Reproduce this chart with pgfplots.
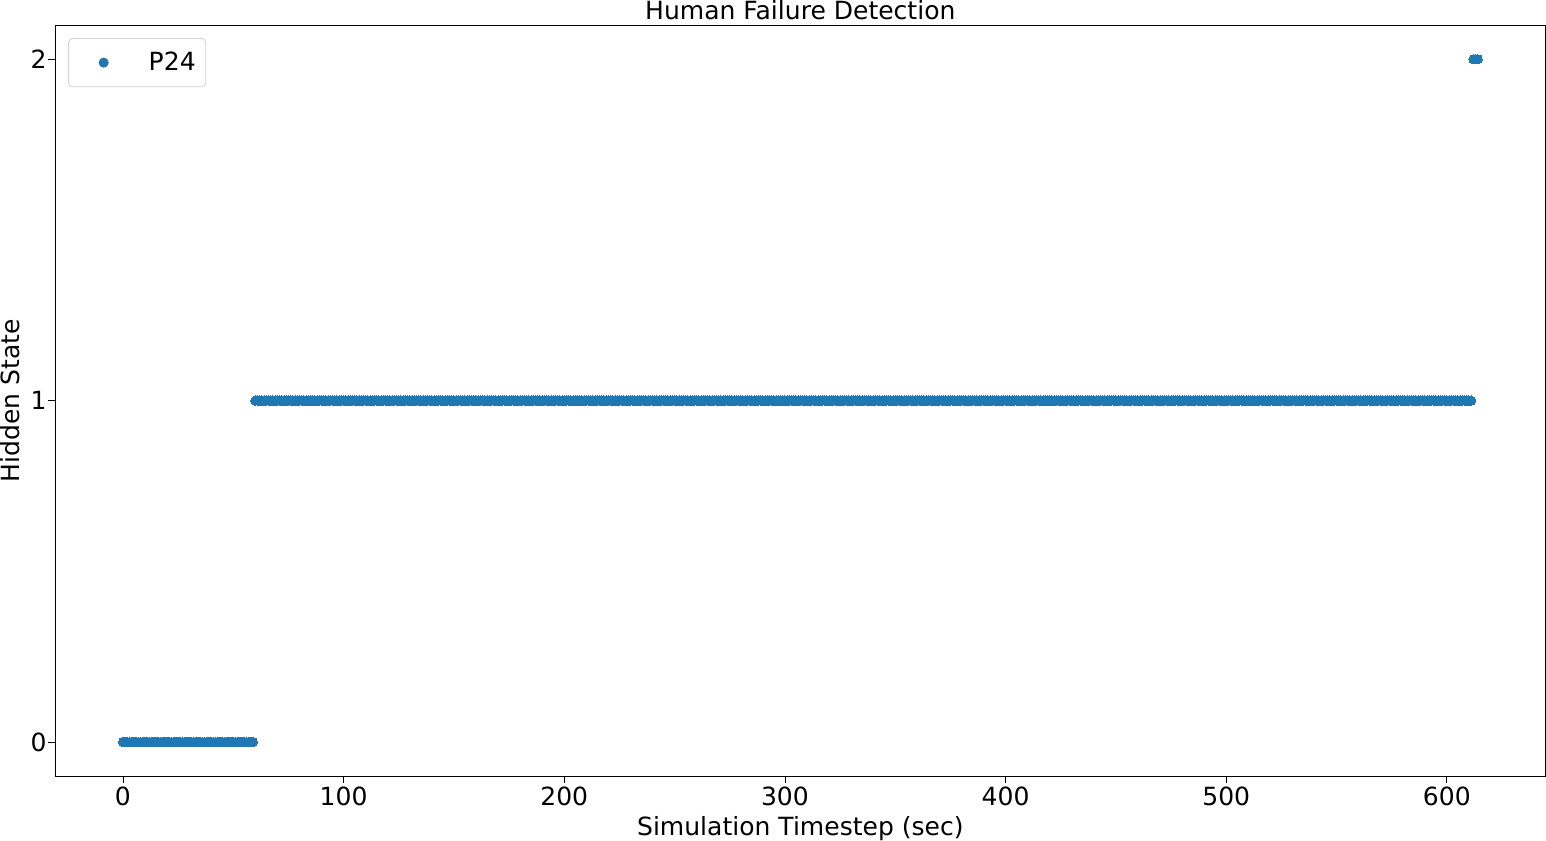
\documentclass[border=0pt]{standalone}
\usepackage{fontspec}
\setmainfont{DejaVu Sans}
\usepackage{pgfplots}
\pgfplotsset{compat=1.18}
\definecolor{mblue}{HTML}{1F77B4}
\begin{document}
\fontsize{12.5}{15}\selectfont
\begin{tikzpicture}
\begin{axis}[
  scale only axis,
  width=744pt, height=375pt,
  xmin=-30.7, xmax=644.7,
  ymin=-0.1, ymax=2.1,
  xtick={0,100,200,300,400,500,600},
  ytick={0,1,2},
  tick align=outside,
  major tick length=3.5pt,
  tick style={black, line width=0.4pt},
  xtick pos=bottom, ytick pos=left,
  /pgf/number format/assume math mode=true,
  tick label style={font=\fontsize{12.5}{15}\selectfont},
  xticklabel style={yshift=2.5pt},
  yticklabel style={xshift=3.5pt},
  title={Human Failure Detection},
  title style={at={(0.5,1)}, anchor=base, yshift=-3pt, inner sep=0pt, font=\fontsize{12.5}{15}\selectfont},
  xlabel={Simulation Timestep (sec)},
  ylabel={Hidden State},
  label style={font=\fontsize{12.5}{15}\selectfont},
  xlabel style={inner sep=0pt, yshift=-1pt},
  ylabel style={inner sep=0pt, yshift=1.2pt},
  axis line style={line width=0.5pt},
  legend style={at={(0,1)}, anchor=north west, xshift=6.5pt, yshift=-6.5pt,
    draw=black!18, rounded corners=2pt, inner xsep=3pt, inner ysep=4.5pt,
    font=\fontsize{12.5}{15}\selectfont, cells={anchor=west}},
  legend cell align=left,
  legend image code/.code={\path[draw=none,fill=none] (0pt,0pt) -- (35pt,0pt); \fill[mblue] (14.5pt,0pt) circle (2.3pt);},
]
\addplot[only marks, mark=*, mark size=2.3pt, mark options={draw=mblue, fill=mblue, line width=0pt}] coordinates {
(0,0) (1,0) (2,0) (3,0) (4,0) (5,0) (6,0) (7,0) (8,0) (9,0)
(10,0) (11,0) (12,0) (13,0) (14,0) (15,0) (16,0) (17,0) (18,0) (19,0)
(20,0) (21,0) (22,0) (23,0) (24,0) (25,0) (26,0) (27,0) (28,0) (29,0)
(30,0) (31,0) (32,0) (33,0) (34,0) (35,0) (36,0) (37,0) (38,0) (39,0)
(40,0) (41,0) (42,0) (43,0) (44,0) (45,0) (46,0) (47,0) (48,0) (49,0)
(50,0) (51,0) (52,0) (53,0) (54,0) (55,0) (56,0) (57,0) (58,0) (59,0)
(60,1) (61,1) (62,1) (63,1) (64,1) (65,1) (66,1) (67,1) (68,1) (69,1)
(70,1) (71,1) (72,1) (73,1) (74,1) (75,1) (76,1) (77,1) (78,1) (79,1)
(80,1) (81,1) (82,1) (83,1) (84,1) (85,1) (86,1) (87,1) (88,1) (89,1)
(90,1) (91,1) (92,1) (93,1) (94,1) (95,1) (96,1) (97,1) (98,1) (99,1)
(100,1) (101,1) (102,1) (103,1) (104,1) (105,1) (106,1) (107,1) (108,1) (109,1)
(110,1) (111,1) (112,1) (113,1) (114,1) (115,1) (116,1) (117,1) (118,1) (119,1)
(120,1) (121,1) (122,1) (123,1) (124,1) (125,1) (126,1) (127,1) (128,1) (129,1)
(130,1) (131,1) (132,1) (133,1) (134,1) (135,1) (136,1) (137,1) (138,1) (139,1)
(140,1) (141,1) (142,1) (143,1) (144,1) (145,1) (146,1) (147,1) (148,1) (149,1)
(150,1) (151,1) (152,1) (153,1) (154,1) (155,1) (156,1) (157,1) (158,1) (159,1)
(160,1) (161,1) (162,1) (163,1) (164,1) (165,1) (166,1) (167,1) (168,1) (169,1)
(170,1) (171,1) (172,1) (173,1) (174,1) (175,1) (176,1) (177,1) (178,1) (179,1)
(180,1) (181,1) (182,1) (183,1) (184,1) (185,1) (186,1) (187,1) (188,1) (189,1)
(190,1) (191,1) (192,1) (193,1) (194,1) (195,1) (196,1) (197,1) (198,1) (199,1)
(200,1) (201,1) (202,1) (203,1) (204,1) (205,1) (206,1) (207,1) (208,1) (209,1)
(210,1) (211,1) (212,1) (213,1) (214,1) (215,1) (216,1) (217,1) (218,1) (219,1)
(220,1) (221,1) (222,1) (223,1) (224,1) (225,1) (226,1) (227,1) (228,1) (229,1)
(230,1) (231,1) (232,1) (233,1) (234,1) (235,1) (236,1) (237,1) (238,1) (239,1)
(240,1) (241,1) (242,1) (243,1) (244,1) (245,1) (246,1) (247,1) (248,1) (249,1)
(250,1) (251,1) (252,1) (253,1) (254,1) (255,1) (256,1) (257,1) (258,1) (259,1)
(260,1) (261,1) (262,1) (263,1) (264,1) (265,1) (266,1) (267,1) (268,1) (269,1)
(270,1) (271,1) (272,1) (273,1) (274,1) (275,1) (276,1) (277,1) (278,1) (279,1)
(280,1) (281,1) (282,1) (283,1) (284,1) (285,1) (286,1) (287,1) (288,1) (289,1)
(290,1) (291,1) (292,1) (293,1) (294,1) (295,1) (296,1) (297,1) (298,1) (299,1)
(300,1) (301,1) (302,1) (303,1) (304,1) (305,1) (306,1) (307,1) (308,1) (309,1)
(310,1) (311,1) (312,1) (313,1) (314,1) (315,1) (316,1) (317,1) (318,1) (319,1)
(320,1) (321,1) (322,1) (323,1) (324,1) (325,1) (326,1) (327,1) (328,1) (329,1)
(330,1) (331,1) (332,1) (333,1) (334,1) (335,1) (336,1) (337,1) (338,1) (339,1)
(340,1) (341,1) (342,1) (343,1) (344,1) (345,1) (346,1) (347,1) (348,1) (349,1)
(350,1) (351,1) (352,1) (353,1) (354,1) (355,1) (356,1) (357,1) (358,1) (359,1)
(360,1) (361,1) (362,1) (363,1) (364,1) (365,1) (366,1) (367,1) (368,1) (369,1)
(370,1) (371,1) (372,1) (373,1) (374,1) (375,1) (376,1) (377,1) (378,1) (379,1)
(380,1) (381,1) (382,1) (383,1) (384,1) (385,1) (386,1) (387,1) (388,1) (389,1)
(390,1) (391,1) (392,1) (393,1) (394,1) (395,1) (396,1) (397,1) (398,1) (399,1)
(400,1) (401,1) (402,1) (403,1) (404,1) (405,1) (406,1) (407,1) (408,1) (409,1)
(410,1) (411,1) (412,1) (413,1) (414,1) (415,1) (416,1) (417,1) (418,1) (419,1)
(420,1) (421,1) (422,1) (423,1) (424,1) (425,1) (426,1) (427,1) (428,1) (429,1)
(430,1) (431,1) (432,1) (433,1) (434,1) (435,1) (436,1) (437,1) (438,1) (439,1)
(440,1) (441,1) (442,1) (443,1) (444,1) (445,1) (446,1) (447,1) (448,1) (449,1)
(450,1) (451,1) (452,1) (453,1) (454,1) (455,1) (456,1) (457,1) (458,1) (459,1)
(460,1) (461,1) (462,1) (463,1) (464,1) (465,1) (466,1) (467,1) (468,1) (469,1)
(470,1) (471,1) (472,1) (473,1) (474,1) (475,1) (476,1) (477,1) (478,1) (479,1)
(480,1) (481,1) (482,1) (483,1) (484,1) (485,1) (486,1) (487,1) (488,1) (489,1)
(490,1) (491,1) (492,1) (493,1) (494,1) (495,1) (496,1) (497,1) (498,1) (499,1)
(500,1) (501,1) (502,1) (503,1) (504,1) (505,1) (506,1) (507,1) (508,1) (509,1)
(510,1) (511,1) (512,1) (513,1) (514,1) (515,1) (516,1) (517,1) (518,1) (519,1)
(520,1) (521,1) (522,1) (523,1) (524,1) (525,1) (526,1) (527,1) (528,1) (529,1)
(530,1) (531,1) (532,1) (533,1) (534,1) (535,1) (536,1) (537,1) (538,1) (539,1)
(540,1) (541,1) (542,1) (543,1) (544,1) (545,1) (546,1) (547,1) (548,1) (549,1)
(550,1) (551,1) (552,1) (553,1) (554,1) (555,1) (556,1) (557,1) (558,1) (559,1)
(560,1) (561,1) (562,1) (563,1) (564,1) (565,1) (566,1) (567,1) (568,1) (569,1)
(570,1) (571,1) (572,1) (573,1) (574,1) (575,1) (576,1) (577,1) (578,1) (579,1)
(580,1) (581,1) (582,1) (583,1) (584,1) (585,1) (586,1) (587,1) (588,1) (589,1)
(590,1) (591,1) (592,1) (593,1) (594,1) (595,1) (596,1) (597,1) (598,1) (599,1)
(600,1) (601,1) (602,1) (603,1) (604,1) (605,1) (606,1) (607,1) (608,1) (609,1)
(610,1) (611,1)
(612,2) (613,2) (614,2)
};
\addlegendentry{P24}
\end{axis}
\end{tikzpicture}
\end{document}
